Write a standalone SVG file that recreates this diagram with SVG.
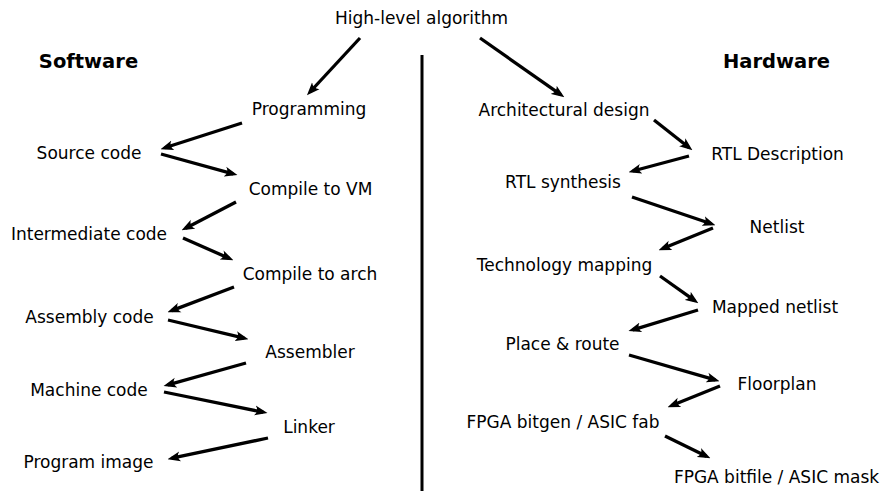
<svg xmlns="http://www.w3.org/2000/svg" width="882" height="493" viewBox="0 0 882 493">
<style>
text{font-family:"DejaVu Sans","Liberation Sans",sans-serif;font-size:17px;fill:#000;text-anchor:middle}
.h{font-weight:bold;font-size:19.5px}
.c line{stroke:#000;stroke-width:3.3;marker-end:url(#ah)}
</style>
<defs>
<marker id="ah" viewBox="0 0 13 11" refX="8.5" refY="5.5" markerWidth="13" markerHeight="11" markerUnits="userSpaceOnUse" orient="auto">
<path d="M13,5.5 L0,0.5 Q4.5,5.5 0,10.5 Z" fill="#000"/>
</marker>
</defs>
<rect width="882" height="493" fill="#fff"/>
<line id="divider" x1="422" y1="55" x2="422" y2="491" stroke="#000" stroke-width="3"/>
<g id="top"><text x="421.5" y="24">High-level algorithm</text></g>
<g id="sw"><text class="h" x="88.5" y="68">Software</text></g>
<g id="hw"><text class="h" x="776.5" y="68">Hardware</text></g>
<g id="programming"><text x="309" y="115">Programming</text></g>
<g id="source"><text x="89" y="159">Source code</text></g>
<g id="compilevm"><text x="310.5" y="195">Compile to VM</text></g>
<g id="intermediate"><text x="89" y="240">Intermediate code</text></g>
<g id="compilearch"><text x="310" y="280">Compile to arch</text></g>
<g id="assembly"><text x="89.5" y="323">Assembly code</text></g>
<g id="assembler"><text x="310" y="358">Assembler</text></g>
<g id="machine"><text x="89" y="396">Machine code</text></g>
<g id="linker"><text x="309" y="433">Linker</text></g>
<g id="image"><text x="88.5" y="468">Program image</text></g>
<g id="arch"><text x="564" y="116">Architectural design</text></g>
<g id="rtldesc"><text x="777.5" y="160">RTL Description</text></g>
<g id="rtlsyn"><text x="563" y="188">RTL synthesis</text></g>
<g id="netlist"><text x="777" y="233">Netlist</text></g>
<g id="techmap"><text x="564.5" y="271">Technology mapping</text></g>
<g id="mapped"><text x="775" y="313">Mapped netlist</text></g>
<g id="pnr"><text x="562.5" y="350">Place &amp; route</text></g>
<g id="floorplan"><text x="777" y="390">Floorplan</text></g>
<g id="bitgen"><text x="563" y="428">FPGA bitgen / ASIC fab</text></g>
<g id="bitfile"><text x="776.5" y="483">FPGA bitfile / ASIC mask</text></g>
<g id="connectors" class="c">
<line x1="360" y1="38" x2="310" y2="92"/>
<line x1="480" y1="38" x2="560.7" y2="94.7"/>
<line x1="242" y1="123" x2="164.8" y2="147.8"/>
<line x1="161" y1="154" x2="233.1" y2="173.9"/>
<line x1="236" y1="202" x2="185.6" y2="228.2"/>
<line x1="183" y1="238" x2="229.3" y2="258.4"/>
<line x1="234" y1="287" x2="171.7" y2="310.6"/>
<line x1="168" y1="320" x2="244.1" y2="338.1"/>
<line x1="246" y1="363" x2="167.9" y2="384.9"/>
<line x1="164" y1="392" x2="263.1" y2="412.2"/>
<line x1="268" y1="438" x2="171.9" y2="458.2"/>
<line x1="654" y1="120" x2="688.9" y2="147.5"/>
<line x1="689" y1="156" x2="632.9" y2="171"/>
<line x1="632" y1="197" x2="711.2" y2="223.7"/>
<line x1="713" y1="228" x2="662.7" y2="248.5"/>
<line x1="660" y1="276" x2="694.7" y2="300.7"/>
<line x1="698" y1="310" x2="632.8" y2="329.8"/>
<line x1="629" y1="355" x2="715.2" y2="379.9"/>
<line x1="720" y1="386" x2="671.7" y2="405.5"/>
<line x1="665" y1="436" x2="706.4" y2="456.2"/>
</g>
</svg>
